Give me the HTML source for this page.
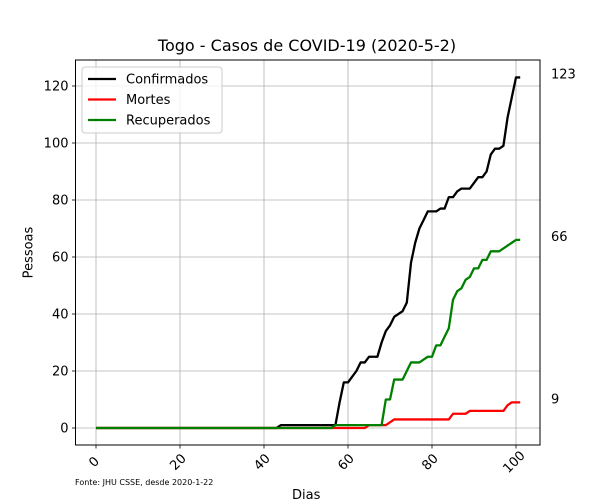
<!DOCTYPE html>
<html><head><meta charset="utf-8"><style>
body{margin:0;background:#fff}
svg{display:block;font-family:"DejaVu Sans","Liberation Sans",sans-serif}
</style></head><body>
<svg id="chart" width="600" height="500"></svg>
<script>
const conf = [0,0,0,0,0,0,0,0,0,0,0,0,0,0,0,0,0,0,0,0,0,0,0,0,0,0,0,0,0,0,0,0,0,0,0,0,0,0,0,0,0,0,0,0,1,1,1,1,1,1,1,1,1,1,1,1,1,
1,9,16,16,18,20,23,23,25,25,25,30,34,36,39,40,41,44,58,65,70,73,76,76,76,77,77,81,81,83,84,84,84,86,88,88,90,96,98,98,99,109,116,123,123];
const deaths = [0,0,0,0,0,0,0,0,0,0,0,0,0,0,0,0,0,0,0,0,0,0,0,0,0,0,0,0,0,0,0,0,0,0,0,0,0,0,0,0,0,0,0,0,0,0,0,0,0,0,0,0,0,0,0,0,0,
0,0,0,0,0,0,0,0,1,1,1,1,1,2,3,3,3,3,3,3,3,3,3,3,3,3,3,3,5,5,5,5,6,6,6,6,6,6,6,6,6,8,9,9,9];
const recov = [0,0,0,0,0,0,0,0,0,0,0,0,0,0,0,0,0,0,0,0,0,0,0,0,0,0,0,0,0,0,0,0,0,0,0,0,0,0,0,0,0,0,0,0,0,0,0,0,0,0,0,0,0,0,0,0,0,
1,1,1,1,1,1,1,1,1,1,1,1,10,10,17,17,17,20,23,23,23,24,25,25,29,29,32,35,45,48,49,52,53,56,56,59,59,62,62,62,63,64,65,66,66];
const xTicks = [0,20,40,60,80,100];
const yTicks = [0,20,40,60,80,100,120];
const seriesNames = ["Confirmados","Mortes","Recuperados"];
const seriesColors = ["#000000","#ff0000","#008000"];

const NS="http://www.w3.org/2000/svg";
const svg=document.getElementById('chart');
const L=75.5,R=540,T=60,B=445;
const sx=d=>96+d*4.2;
const sy=v=>428-v*2.85;
function mk(tag,attrs,parent){const e=document.createElementNS(NS,tag);for(const k in attrs)e.setAttribute(k,attrs[k]);(parent||svg).appendChild(e);return e;}

xTicks.forEach(t=>{
  const g=mk('line',{x1:sx(t),x2:sx(t),y1:T,y2:B,stroke:'#b0b0b0','stroke-width':0.8});
  
  
  mk('line',{x1:sx(t),x2:sx(t),y1:B,y2:B+3.5,stroke:'#000','stroke-width':0.8});
  const tx=mk('text',{x:0,y:0,'font-size':13,'text-anchor':'middle',transform:`translate(${sx(t)+1},${B+20}) rotate(-45)`});
  tx.textContent=t;
  
  
});
yTicks.forEach(t=>{
  const g=mk('line',{x1:L,x2:R,y1:sy(t),y2:sy(t),stroke:'#b0b0b0','stroke-width':0.8});
  
  
  mk('line',{x1:L-3.5,x2:L,y1:sy(t),y2:sy(t),stroke:'#000','stroke-width':0.8});
  const tx=mk('text',{x:L-7,y:sy(t)+4.5,'font-size':13,'text-anchor':'end'});
  tx.textContent=t;
  
  
});

[conf,deaths,recov].forEach((arr,i)=>{
  const p=mk('polyline',{points:arr.map((v,d)=>sx(d)+','+sy(v)).join(' '),fill:'none',stroke:seriesColors[i],'stroke-width':2.3,'stroke-linejoin':'round'});
  
  
  const last=arr[arr.length-1];
  const lt=mk('text',{x:551,y:sy(last)+1,'font-size':13});
  lt.textContent=last;
  
  
});

const fr=mk('rect',{x:L,y:T,width:R-L,height:B-T,fill:'none',stroke:'#000','stroke-width':1});



const lg=mk('g',{});


mk('rect',{x:82,y:67,width:140,height:66,rx:3,fill:'#fff','fill-opacity':0.8,stroke:'#ccc'},lg);
seriesNames.forEach((n,i)=>{
  const y=79+i*20.5;
  mk('line',{x1:88,x2:116,y1:y,y2:y,stroke:seriesColors[i],'stroke-width':2.3},lg);
  const t=mk('text',{x:126,y:y+4.5,'font-size':13},lg);
  t.textContent=n;
  
  
});
</script>
<div style="position:absolute;left:0;top:0;width:600px;height:500px;pointer-events:none;font-family:'DejaVu Sans','Liberation Sans',sans-serif">
  <div style="position:absolute;left:0;width:614px;top:36px;text-align:center;font-size:16px">Togo - Casos de COVID-19 (2020-5-2)</div>
  <div style="position:absolute;left:292px;top:488px;font-size:13px">Dias</div>
  <div style="position:absolute;left:3px;top:245px;font-size:13px;transform:rotate(-90deg)">Pessoas</div>
  <div style="position:absolute;left:75px;top:478px;font-size:8px">Fonte: JHU CSSE, desde 2020-1-22</div>
</div>
</body></html>
